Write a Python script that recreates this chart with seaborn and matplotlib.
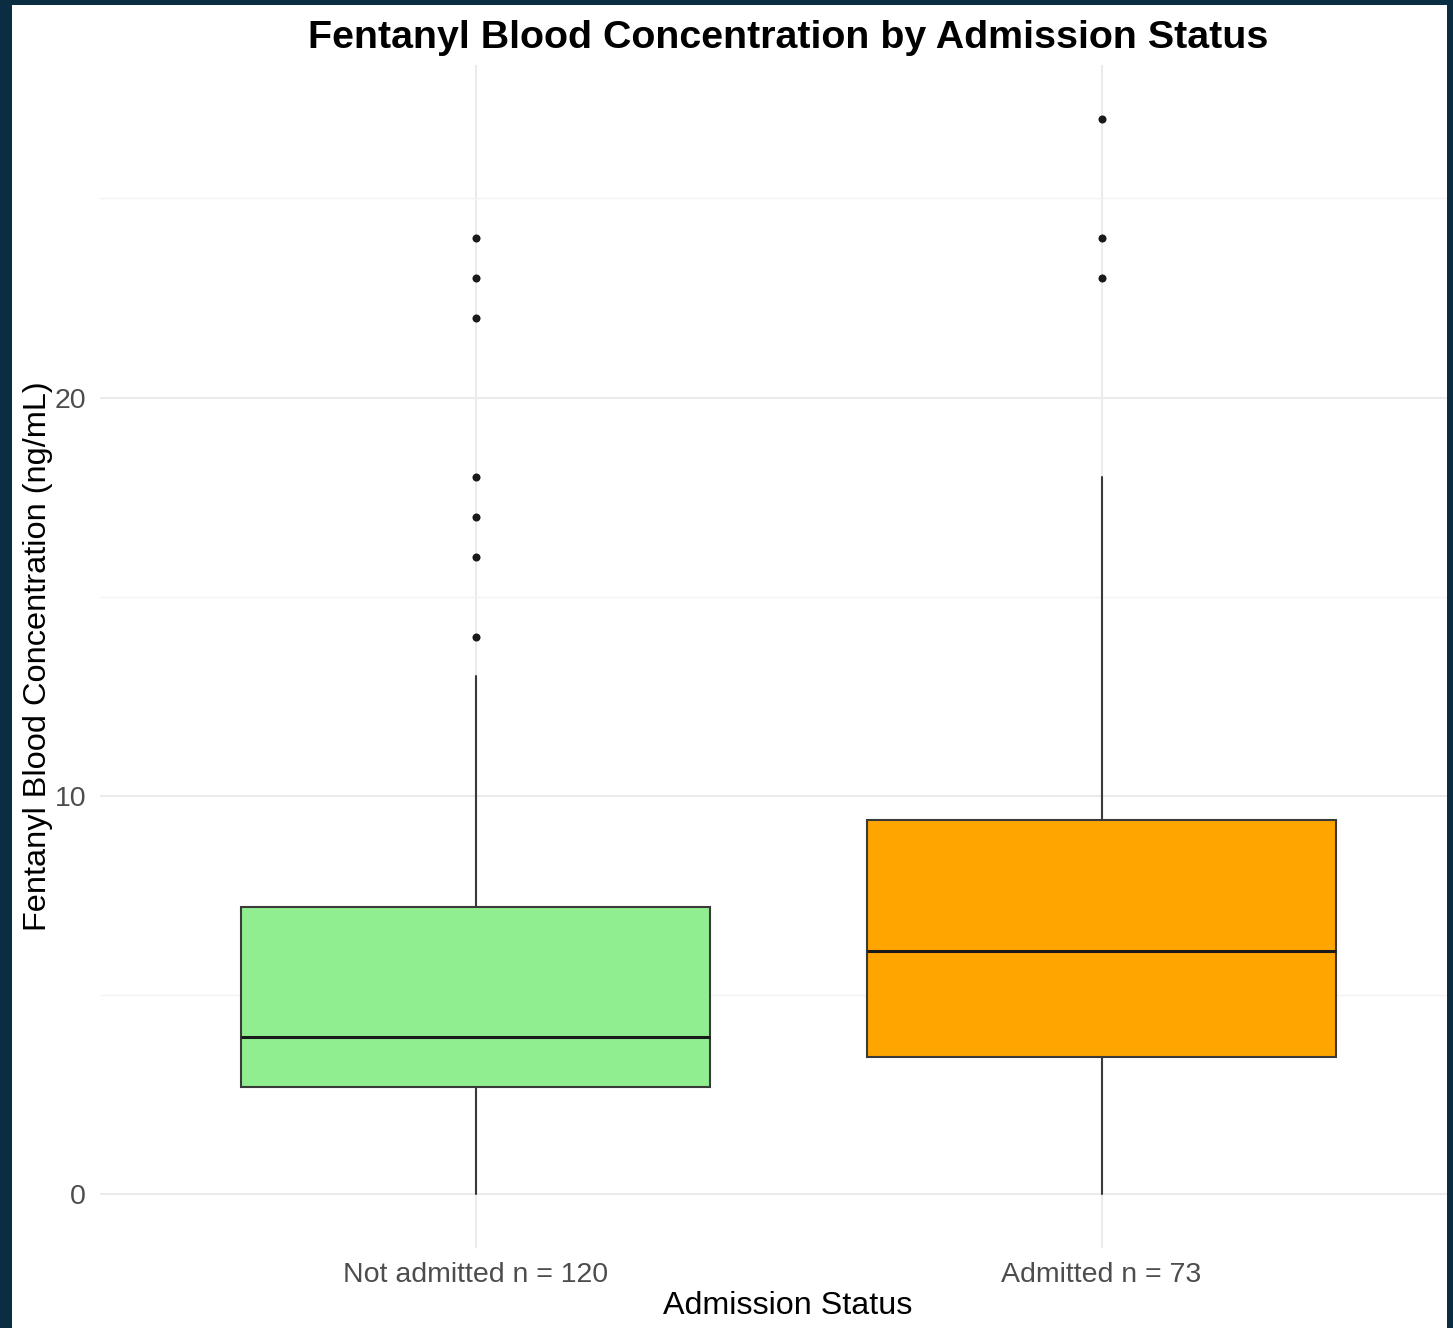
import matplotlib
matplotlib.use("Agg")
import matplotlib.pyplot as plt
from matplotlib.patches import Rectangle
import pandas as pd
import seaborn as sns

# Summary statistics per admission group (ng/mL)
groups = ["Not admitted n = 120", "Admitted n = 73"]
whisker_low = [0.0, 0.0]
q1 = [2.69, 3.44]
median = [3.945, 6.10]
q3 = [7.21, 9.40]
whisker_high = [13.0, 18.0]
fill_colors = ["#90EE90", "#FFA500"]

# Outlying measurements per group
outliers_not_admitted = [14.0, 16.0, 17.0, 18.0, 22.0, 23.0, 24.0]
outliers_admitted = [23.0, 24.0, 27.0]

y_ticks = [0, 10, 20]
y_minor = [5, 15, 25]

sns.set_theme(style="whitegrid")
plt.rcParams["font.family"] = ["Liberation Sans", "DejaVu Sans"]

W, H = 1453, 1328
fig = plt.figure(figsize=(W / 100, H / 100), dpi=100)
fig.patch.set_facecolor("#0B2D42")
# white panel inside the dark frame
fig.add_artist(Rectangle((12 / W, 0), (1447 - 12) / W, (H - 5) / H,
                         transform=fig.transFigure, facecolor="white",
                         edgecolor="none", zorder=-10))

px_left, px_right, px_top, px_bottom = 100, 1447, 65, 1248
ax = fig.add_axes([px_left / W, 1 - px_bottom / H,
                   (px_right - px_left) / W, (px_bottom - px_top) / H])
ax.set_facecolor("none")

out_df = pd.DataFrame({
    "group": [groups[0]] * len(outliers_not_admitted) + [groups[1]] * len(outliers_admitted),
    "value": outliers_not_admitted + outliers_admitted,
})

sns.stripplot(data=out_df, x="group", y="value", order=groups, jitter=False,
              color="#1A1A1A", size=5.8, linewidth=0, ax=ax, zorder=4)

stats = []
for i in range(len(groups)):
    stats.append({"label": groups[i], "whislo": whisker_low[i], "q1": q1[i],
                  "med": median[i], "q3": q3[i], "whishi": whisker_high[i],
                  "fliers": []})

bp = ax.bxp(stats, positions=[0, 1], widths=0.75, patch_artist=True,
            showfliers=False, showcaps=False, manage_ticks=False,
            boxprops=dict(edgecolor="#3A3A3A", linewidth=1.5),
            whiskerprops=dict(color="#3A3A3A", linewidth=1.5),
            medianprops=dict(color="#1A1A1A", linewidth=2.2))
for patch, c in zip(bp["boxes"], fill_colors):
    patch.set_facecolor(c)
    patch.set_zorder(3)
for m in bp["medians"]:
    m.set_zorder(3.5)
for w in bp["whiskers"]:
    w.set_zorder(2.5)

ax.set_xlim(-0.6, -0.6 + (px_right - px_left) / 626)
ax.set_ylim(-1.35, 28.35)
ax.set_yticks(y_ticks)
ax.set_yticks(y_minor, minor=True)
ax.grid(True, which="major", axis="both", color="#EBEBEB", linewidth=1.5, zorder=0)
ax.grid(True, which="minor", axis="y", color="#F3F3F3", linewidth=1.0, zorder=0)
ax.set_axisbelow(True)
for s in ax.spines.values():
    s.set_visible(False)
ax.tick_params(axis="both", which="both", length=0, labelsize=20.5, labelcolor="#4D4D4D")
ax.tick_params(axis="x", pad=10)
ax.tick_params(axis="y", pad=10)
ax.set_xlabel("")
ax.set_ylabel("")

fig.text(788 / W, 1 - 48 / H, "Fentanyl Blood Concentration by Admission Status",
         ha="center", va="baseline", fontsize=28.4, fontweight="bold", color="black")
fig.text(788 / W, 1 - 1306 / H, "Admission Status", ha="center", va="center",
         fontsize=23.2, color="black")
fig.text(38 / W, 1 - 656 / H, "Fentanyl Blood Concentration (ng/mL)", ha="center",
         va="center", rotation=90, fontsize=23.4, color="black")

fig.savefig("out.png", dpi=100, facecolor=fig.get_facecolor())
